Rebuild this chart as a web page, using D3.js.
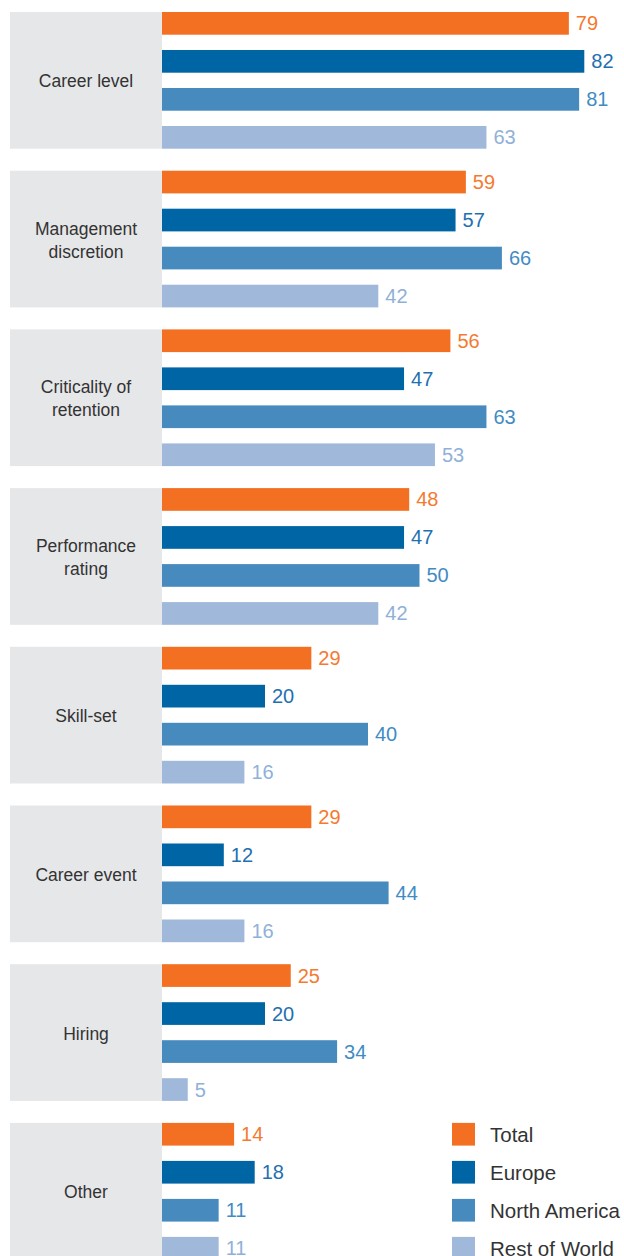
<!DOCTYPE html>
<html>
<head>
<meta charset="utf-8">
<script src="https://cdn.jsdelivr.net/npm/d3@7"></script>
<style>
  html, body { margin: 0; padding: 0; background: #ffffff; }
  svg { display: block; font-family: "Liberation Sans", Arial, Helvetica, sans-serif; }
</style>
</head>
<body>
<svg id="chart" width="624" height="1256"></svg>
<script>
// Factors considered, by region (% of respondents)
const categories = [
  "Career level",
  "Management discretion",
  "Criticality of retention",
  "Performance rating",
  "Skill-set",
  "Career event",
  "Hiring",
  "Other"
];
const categoryLines = [
  ["Career level"],
  ["Management", "discretion"],
  ["Criticality of", "retention"],
  ["Performance", "rating"],
  ["Skill-set"],
  ["Career event"],
  ["Hiring"],
  ["Other"]
];
const seriesNames = ["Total", "Europe", "North America", "Rest of World"];
const totalValues        = [79, 59, 56, 48, 29, 29, 25, 14];
const europeValues       = [82, 57, 47, 47, 20, 12, 20, 18];
const northAmericaValues = [81, 66, 63, 50, 40, 44, 34, 11];
const restOfWorldValues  = [63, 42, 53, 42, 16, 16, 5, 11];

const barColors   = ["#f36f21", "#0065a4", "#478abe", "#a0b9da"];
const labelColors = ["#f47a30", "#1f70b0", "#3f8cc4", "#8fb1d8"];

const seriesValues = [totalValues, europeValues, northAmericaValues, restOfWorldValues];

const rows = categories.map((c, i) => ({
  category: c,
  lines: categoryLines[i],
  values: seriesNames.map((s, j) => ({ series: s, value: seriesValues[j][i], idx: j }))
}));

const svg = d3.select("#chart");

const panelLeft = 10, barLeft = 162;

const y = d3.scaleBand()
  .domain(categories)
  .range([12, 1259.6])
  .paddingInner(0.1386)
  .paddingOuter(0);

const ySub = d3.scaleBand()
  .domain(seriesNames)
  .range([0, y.bandwidth()])
  .paddingInner(0.4026)
  .paddingOuter(0);

const x = d3.scaleLinear().domain([0, 100]).range([barLeft, barLeft + 515]);

const groups = svg.selectAll("g.cat")
  .data(rows)
  .join("g")
  .attr("class", "cat")
  .attr("transform", d => `translate(0,${y(d.category)})`);

// grey label panel
groups.append("rect")
  .attr("x", panelLeft)
  .attr("y", 0)
  .attr("width", barLeft - panelLeft)
  .attr("height", y.bandwidth())
  .attr("fill", "#e6e7e9");

// category label
groups.append("text")
  .attr("x", (panelLeft + barLeft) / 2)
  .attr("text-anchor", "middle")
  .attr("fill", "#333333")
  .attr("font-size", 17.5)
  .each(function(d) {
    const t = d3.select(this);
    const lh = 23;
    const n = d.lines.length;
    const base = y.bandwidth() / 2 + 7 - (n - 1) * lh / 2;
    d.lines.forEach((line, k) => {
      t.append("tspan").attr("x", (panelLeft + barLeft) / 2).attr("y", base + k * lh).text(line);
    });
  });

// bars
groups.selectAll("rect.bar")
  .data(d => d.values)
  .join("rect")
  .attr("class", "bar")
  .attr("x", x(0))
  .attr("y", d => ySub(d.series))
  .attr("width", d => x(d.value) - x(0))
  .attr("height", ySub.bandwidth())
  .attr("fill", d => barColors[d.idx]);

// value labels
groups.selectAll("text.val")
  .data(d => d.values)
  .join("text")
  .attr("class", "val")
  .attr("x", d => x(d.value) + 7)
  .attr("y", d => ySub(d.series) + ySub.bandwidth() / 2 + 7)
  .attr("fill", d => labelColors[d.idx])
  .attr("font-size", 20)
  .text(d => d.value);

// legend, aligned with the rows of the last group
const lastCat = categories[categories.length - 1];
const legend = svg.append("g")
  .attr("transform", `translate(452,${y(lastCat)})`);

const items = legend.selectAll("g.item")
  .data(seriesNames)
  .join("g")
  .attr("class", "item")
  .attr("transform", d => `translate(0,${ySub(d)})`);

items.append("rect")
  .attr("width", 23)
  .attr("height", ySub.bandwidth())
  .attr("fill", (d, i) => barColors[i]);

items.append("text")
  .attr("x", 38)
  .attr("y", ySub.bandwidth() / 2 + 7.5)
  .attr("fill", "#333333")
  .attr("font-size", 20.5)
  .text(d => d);
</script>
</body>
</html>
